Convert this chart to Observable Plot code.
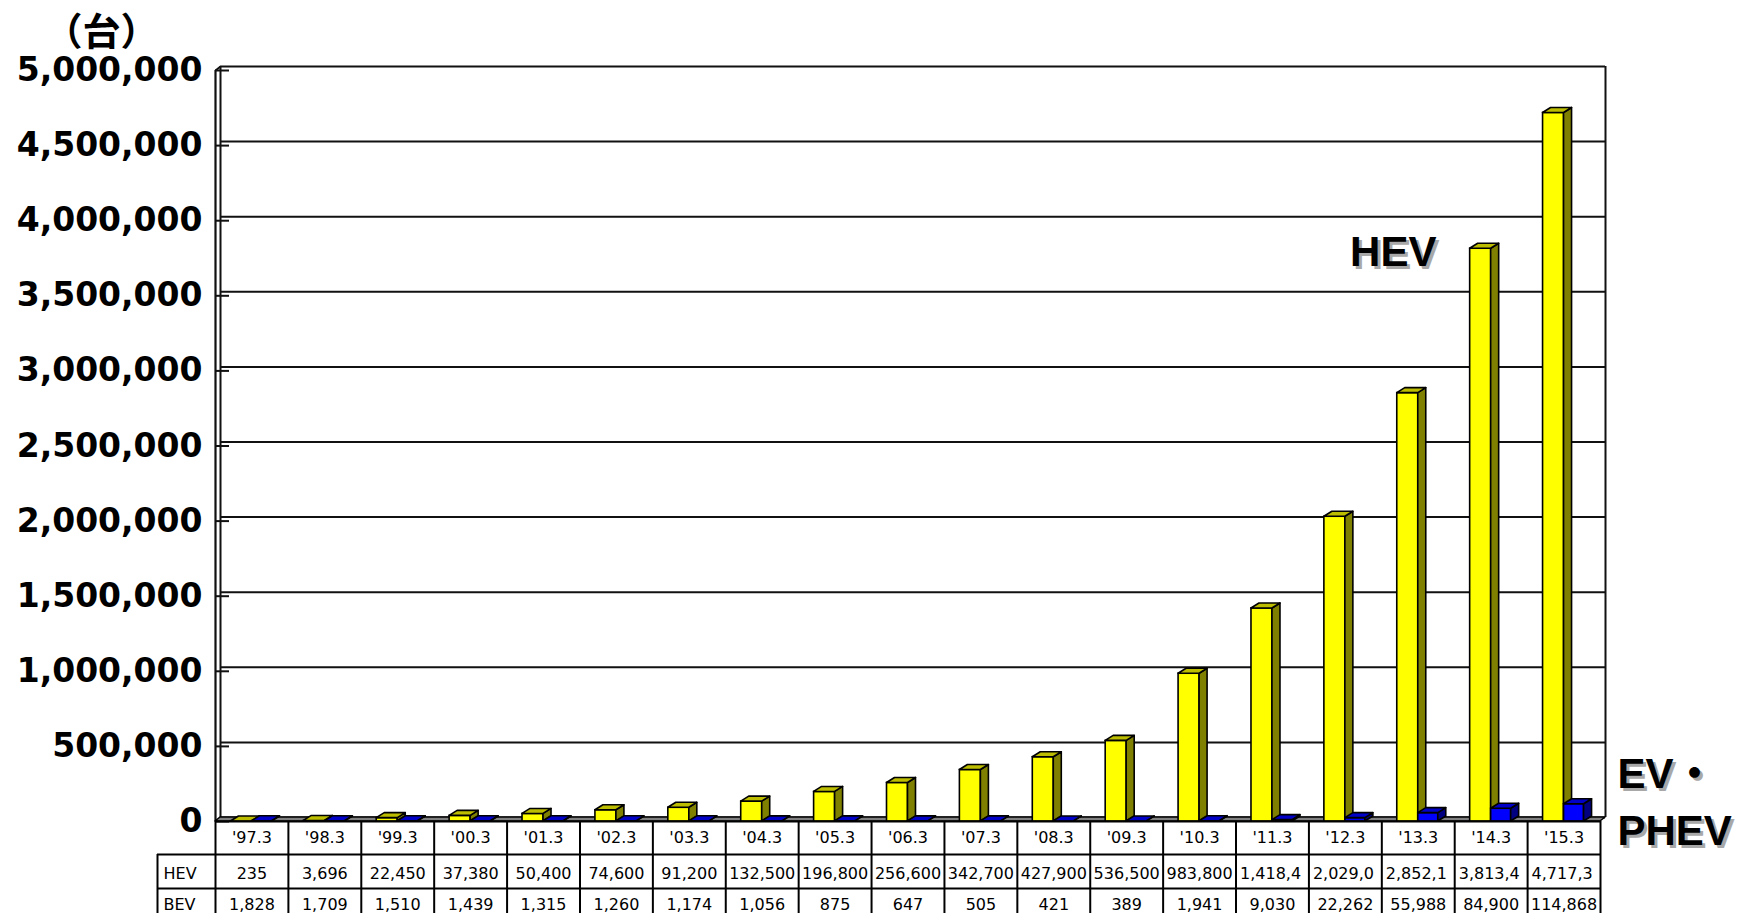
<!DOCTYPE html>
<html>
<head>
<meta charset="utf-8">
<script src="https://cdn.jsdelivr.net/npm/d3@7"></script>
<script src="https://cdn.jsdelivr.net/npm/@observablehq/plot@0.6"></script>
<style>
  html, body { margin: 0; padding: 0; background: #fff; overflow: hidden; }
</style>
</head>
<body>
<div id="chart"></div>
<script>
// Fiscal year-end (March) categories
const categories = ["'97.3","'98.3","'99.3","'00.3","'01.3","'02.3","'03.3","'04.3","'05.3","'06.3","'07.3","'08.3","'09.3","'10.3","'11.3","'12.3","'13.3","'14.3","'15.3"];
// Hybrid vehicles in use (台)
const hev = [235, 3696, 22450, 37380, 50400, 74600, 91200, 132500, 196800, 256600, 342700, 427900, 536500, 983800, 1418400, 2029000, 2852100, 3813400, 4717300];
// Battery EV / plug-in hybrid vehicles in use (台)
const bev = [1828, 1709, 1510, 1439, 1315, 1260, 1174, 1056, 875, 647, 505, 421, 389, 1941, 9030, 22262, 55988, 84900, 114868];
const rowNames = ["HEV", "BEV"];
const yTicks = [0, 500000, 1000000, 1500000, 2000000, 2500000, 3000000, 3500000, 4000000, 4500000, 5000000];
const unitLabel = "（台）";
const hevLabel = "HEV";
const bevLabel = "EV・\nPHEV";

// Page geometry
const W = 1737, H = 913;
const mL = 215, mR = 137, mT = 70, mB = 92;
const n = categories.length;
const yMax = 5000000;
const xPerPx = n / (W - mL - mR);
const yPerPx = yMax / (H - mT - mB);

// 3D extrusion of bars, walls and floor (pixels)
const depthX = 8, depthY = 5;
const wallX = 5, wallY = 4;
const barW = 21;

const dX = depthX * xPerPx, dY = depthY * yPerPx;

function bars(values, side) {
  return values.map((v, i) => {
    const c = i + 0.5;
    const x1 = side < 0 ? c - barW * xPerPx : c;
    const x2 = side < 0 ? c : c + (barW - 1) * xPerPx;
    return {id: i, cat: categories[i], v, x1, x2};
  });
}
function sideFaces(b) {
  return b.flatMap(d => [
    {id: d.id, x: d.x2, lo: 0, hi: d.v},
    {id: d.id, x: d.x2 + dX, lo: dY, hi: d.v + dY}
  ]);
}
function topFaces(b) {
  return b.flatMap(d => [
    {id: d.id, x: d.x1, lo: d.v, hi: d.v},
    {id: d.id, x: d.x1 + dX, lo: d.v, hi: d.v + dY},
    {id: d.id, x: d.x2, lo: d.v, hi: d.v + dY},
    {id: d.id, x: d.x2 + dX, lo: d.v + dY, hi: d.v + dY}
  ]);
}

const hevBars = bars(hev, -1);
const bevBars = bars(bev, 1);

const series = [
  {bars: hevBars, front: "#ffff00", side: "#808000", top: "#bcbc00"},
  {bars: bevBars, front: "#0000ff", side: "#000080", top: "#0000c8"}
];

// Floor slab
const fX = wallX * xPerPx, fY = wallY * yPerPx;
const floor = [
  {x: 0, lo: 0, hi: 0},
  {x: fX, lo: 0, hi: fY},
  {x: n, lo: 0, hi: fY},
  {x: n + fX, lo: fY, hi: fY}
];

// Data table below the floor
const rowPx = [0, 33, 67];
const tableBottomPx = 100;
const headerLeft = -58 * xPerPx;
const hLines = rowPx.map((p, k) => ({y: -p * yPerPx, x1: k === 0 ? 0 : headerLeft}));
const vLines = d3.range(n + 1);
const fmt = d3.format(",");
const cells = [];
[hev, bev].forEach((vals, r) => vals.forEach((v, i) => {
  const s = fmt(v);
  cells.push({row: r, i, text: s.length > 7 ? s.slice(0, 7) : s, fits: s.length <= 7});
}));
const rowDy = [52, 83];
const tableFont = {fontSize: 16, fontFamily: "DejaVu Sans", fill: "black"};

const lineStyle = {stroke: "black", strokeWidth: 1.6};

const marks = [
  // back wall grid
  Plot.ruleY(yTicks, {dx: wallX, dy: -wallY, stroke: "#111", strokeWidth: 2}),
  Plot.ruleX([n], {dx: wallX, dy: -wallY, stroke: "#111", strokeWidth: 2}),
  Plot.ruleX([0], {dx: wallX, dy: -wallY, stroke: "#111", strokeWidth: 2}),
  Plot.ruleX([0], {stroke: "#111", strokeWidth: 2.2}),
  Plot.link([0], {x1: 0, y1: yMax, x2: fX, y2: yMax + fY, stroke: "#111", strokeWidth: 2}),
  Plot.ruleY(yTicks, {x1: 0, x2: 14 * xPerPx, stroke: "#111", strokeWidth: 2}),
  Plot.axisY({ticks: yTicks, tickSize: 0, tickPadding: 13, tickFormat: fmt, label: null,
    fontSize: 33, fontWeight: "bold", fontFamily: "DejaVu Sans", fill: "black"}),
  // floor
  Plot.areaY(floor, {x: "x", y1: "lo", y2: "hi", fill: "#808080", stroke: "black", strokeWidth: 1.6})
];

for (const s of series) {
  marks.push(
    Plot.rect(s.bars, {x1: "x1", x2: "x2", y1: 0, y2: "v", fill: s.front, ...lineStyle}),
    Plot.areaY(sideFaces(s.bars), {x: "x", y1: "lo", y2: "hi", z: "id", fill: s.side, ...lineStyle}),
    Plot.areaY(topFaces(s.bars), {x: "x", y1: "lo", y2: "hi", z: "id", fill: s.top, ...lineStyle})
  );
}

// table grid and category row
marks.push(
  Plot.ruleY(hLines, {y: "y", x1: "x1", x2: n, stroke: "black", strokeWidth: 2}),
  Plot.ruleX(vLines, {x: d => d, y1: 0, y2: -tableBottomPx * yPerPx, stroke: "black", strokeWidth: 2}),
  Plot.ruleX([headerLeft], {y1: -rowPx[1] * yPerPx, y2: -tableBottomPx * yPerPx, stroke: "black", strokeWidth: 2}),
  Plot.text(categories, {x: (d, i) => i + 0.5, frameAnchor: "bottom", dy: 16, textAnchor: "middle", lineAnchor: "middle", ...tableFont})
);

// one set of text marks per table row (values that overflow their cell are cut and left-aligned)
rowNames.forEach((name, r) => {
  marks.push(
    Plot.text(cells.filter(d => d.row === r && d.fits), {x: d => d.i + 0.5, text: "text", frameAnchor: "bottom", dy: rowDy[r], textAnchor: "middle", lineAnchor: "middle", ...tableFont}),
    Plot.text(cells.filter(d => d.row === r && !d.fits), {x: d => d.i, text: "text", frameAnchor: "bottom", dx: 4, dy: rowDy[r], textAnchor: "start", lineAnchor: "middle", ...tableFont}),
    Plot.text([name], {frameAnchor: "bottom-left", dx: -52, dy: rowDy[r], textAnchor: "start", lineAnchor: "middle", ...tableFont})
  );
});

// Unit label and series labels (with drop shadow)
const labelFont = {fontSize: 42, fontWeight: "bold", fontFamily: "Liberation Sans, Noto Sans CJK JP"};
const hevAt = {x: categories.indexOf("'13.3") + 0.5, y: 3790000};
const bevText = {frameAnchor: "bottom-right", textAnchor: "start", lineAnchor: "middle", lineHeight: 1.36, ...labelFont};
marks.push(
  Plot.text([unitLabel], {frameAnchor: "top-left", dx: -114, dy: -38, textAnchor: "middle", lineAnchor: "middle",
    fontSize: 38, fontWeight: "bold", fontFamily: "Noto Sans CJK JP", fill: "black"}),
  Plot.text([hevLabel], {x: hevAt.x, y: hevAt.y, dx: -22, dy: 3, ...labelFont, fill: "#a8a8a8"}),
  Plot.text([hevLabel], {x: hevAt.x, y: hevAt.y, dx: -25, ...labelFont, fill: "black"}),
  Plot.text([bevLabel], {...bevText, dx: 20, dy: -20, fill: "#a8a8a8"}),
  Plot.text([bevLabel], {...bevText, dx: 17, dy: -23, fill: "black"})
);

const chart = Plot.plot({
  width: W,
  height: H,
  marginLeft: mL,
  marginRight: mR,
  marginTop: mT,
  marginBottom: mB,
  x: {type: "linear", domain: [0, n], axis: null},
  y: {type: "linear", domain: [0, yMax], axis: null},
  style: {fontFamily: "DejaVu Sans", background: "white", color: "black", overflow: "visible"},
  marks
});
document.getElementById("chart").appendChild(chart);
</script>
</body>
</html>
